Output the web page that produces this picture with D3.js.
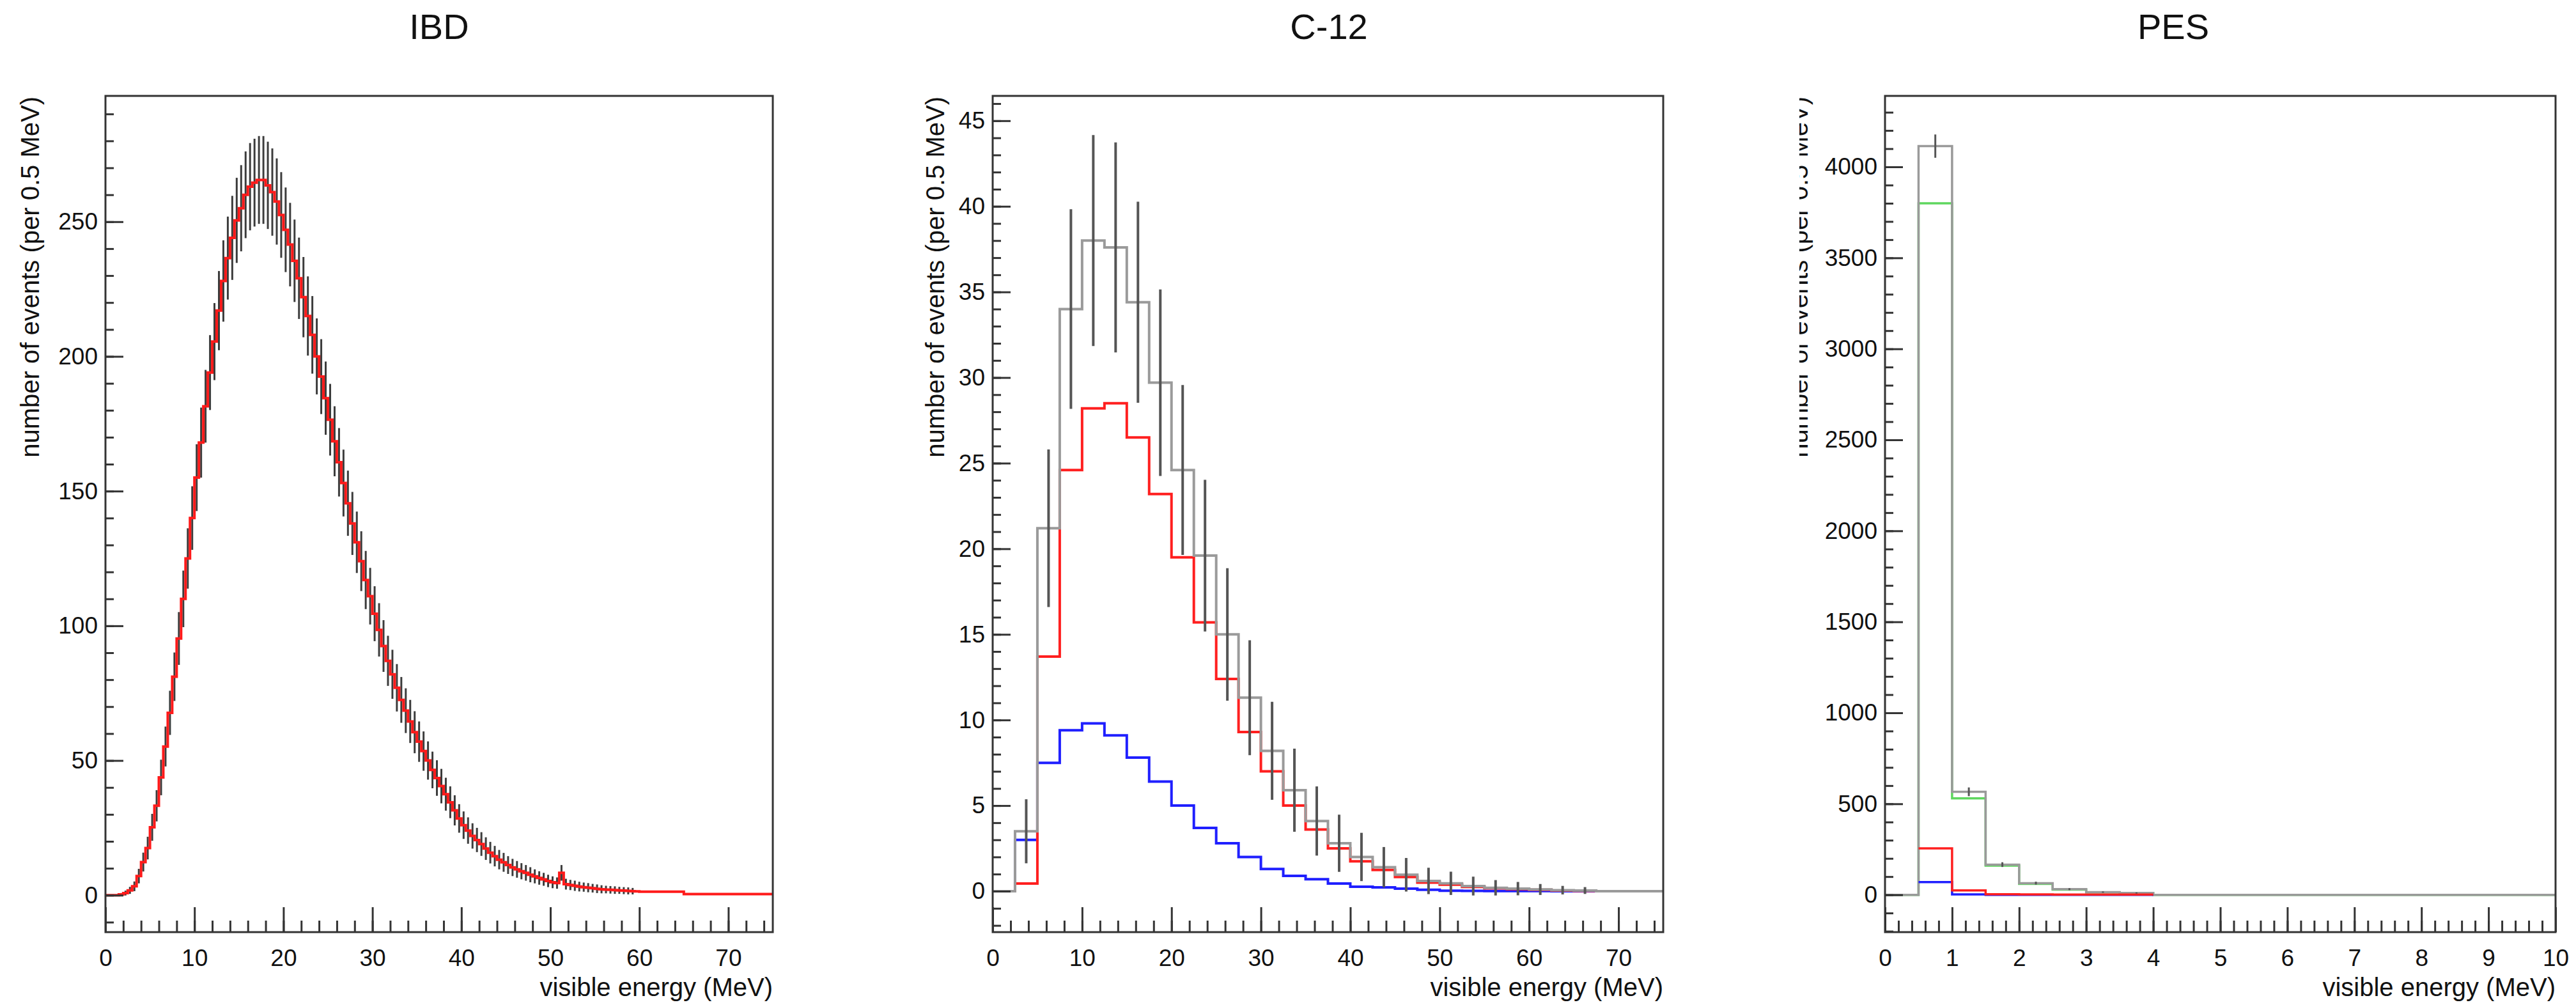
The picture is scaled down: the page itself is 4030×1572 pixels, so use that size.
<!DOCTYPE html>
<html><head><meta charset="utf-8">
<script src="https://cdn.jsdelivr.net/npm/d3@7"></script>
<style>
html,body{margin:0;padding:0;background:#fff;}
svg{display:block;}
text{font-family:"Liberation Sans",Arial,Helvetica,sans-serif;fill:#111;}
</style>
</head><body>
<svg id="c" width="4030" height="1572"></svg>
<script>
// ---------------- DATA ----------------
// IBD: 150 bins of 0.5 MeV from 0 to 75 MeV
const ibdBinWidth = 0.5;
const ibdValues = [
0,0,0,0.3,0.8,1.8,3.3,7.1,12.3,17.5,
25.2,33.2,43.7,55.2,67.7,81.1,95.3,110,125,140,
155,168,181.5,194,205.5,217,228,236.5,244,250.5,
255,260,263,264.5,265.5,265.5,263.5,261,257.5,252.5,
247,241.5,235.5,229,222,215,208,200,192.5,184.5,
176.5,168.5,160.7,153,145.5,138,131,124,117,111,
104.5,98.5,92.5,87,82,77,72.5,68.5,64.5,60.5,
57,53.5,50,46.5,43.5,40.5,37.5,34.5,31.5,28.5,
26,24,22,20.5,19,17.3,15.8,14.5,13.2,12.2,
11.2,10.3,9.6,8.9,8.3,7.6,7,6.4,5.9,5.3,
4.8,4.5,8.3,4.1,3.8,3.5,3.2,3.0,2.8,2.6,
2.4,2.2,2.1,2.0,1.9,1.8,1.7,1.6,1.5,1.4,
1.3,1.3,1.3,1.3,1.3,1.3,1.3,1.3,1.3,1.3,
0.4,0.4,0.4,0.4,0.4,0.4,0.4,0.4,0.4,0.4,
0.4,0.4,0.4,0.4,0.4,0.4,0.4,0.4,0.4,0.4];
const ibdErrors = [
0,0,0,0.5,0.9,1.3,1.8,2.7,3.5,4.2,
5.0,5.8,6.6,7.4,8.2,9.0,9.8,10.5,11.2,11.8,
12.4,13.0,13.5,13.9,14.3,14.7,15.1,15.4,15.6,15.8,
16.0,16.1,16.2,16.3,16.3,16.3,16.2,16.2,16.0,15.9,
15.7,15.5,15.3,15.1,14.9,14.7,14.4,14.1,13.9,13.6,
13.3,13.0,12.7,12.4,12.1,11.7,11.4,11.1,10.8,10.5,
10.2,9.9,9.6,9.3,9.1,8.8,8.5,8.3,8.0,7.8,
7.5,7.3,7.1,6.8,6.6,6.4,6.1,5.9,5.6,5.3,
5.1,4.9,4.7,4.5,4.4,4.2,4.0,3.8,3.6,3.5,
3.3,3.2,3.1,3.0,2.9,2.8,2.6,2.5,2.4,2.3,
2.2,2.1,2.9,2.0,1.9,1.9,1.8,1.7,1.7,1.6,
1.6,1.5,1.4,1.4,1.4,1.3,1.3,1.3,1.2,0,
0,0,0,0,0,0,0,0,0,0,
0,0,0,0,0,0,0,0,0,0,
0,0,0,0,0,0,0,0,0,0];

// C-12: 30 bins of 2.5 MeV from 0 to 75 MeV
const c12BinWidth = 2.5;
const c12Total = [0,3.5,21.2,34.0,38.0,37.6,34.4,29.7,24.6,19.6,15.0,11.3,8.2,5.9,4.1,2.8,2.0,1.4,0.96,0.6,0.46,0.3,0.2,0.15,0.1,0.06,0.04,0,0,0];
const c12Red   = [0,0.45,13.7,24.6,28.2,28.5,26.5,23.2,19.5,15.7,12.4,9.3,7.0,5.0,3.6,2.5,1.75,1.24,0.83,0.5,0.38,0.25,0.17,0.12,0.08,0.04,0.02,0,0,0];
const c12Blue  = [0,3.0,7.5,9.4,9.8,9.1,7.8,6.4,5.0,3.7,2.8,2.0,1.3,0.9,0.7,0.45,0.26,0.22,0.15,0.08,0.03,0.02,0.01,0.01,0.01,0,0,0,0,0];
const c12Errors= [0,1.87,4.6,5.83,6.16,6.13,5.87,5.45,4.96,4.43,3.87,3.36,2.86,2.43,2.02,1.67,1.41,1.18,0.98,0.77,0.68,0.55,0.45,0.39,0.32,0.25,0.2,0,0,0];

// PES: 20 bins of 0.5 MeV from 0 to 10 MeV (null = not filled)
const pesBinWidth = 0.5;
const pesTotal  = [0,4114,566,166,64,31,15,10,0,0,0,0,0,0,0,0,0,0,0,0];
const pesGreen  = [0,3800,530,160,60,29,14,9,0,0,0,0,0,0,0,0,0,0,0,0];
const pesRed    = [null,255,24,3,2,1,1,1,null,null,null,null,null,null,null,null,null,null,null,null];
const pesBlue   = [null,70,2,0,0,0,0,0,null,null,null,null,null,null,null,null,null,null,null,null];
const pesErrors = [0,64,24,13,8,5.6,3.9,3.2,0,0,0,0,0,0,0,0,0,0,0,0];

// Axis ticks
const ibdYMajor = [0,50,100,150,200,250];
const c12YMajor = [0,5,10,15,20,25,30,35,40,45];
const pesYMajor = [0,500,1000,1500,2000,2500,3000,3500,4000];
const energyXMajor = [0,10,20,30,40,50,60,70];
const pesXMajor = [0,1,2,3,4,5,6,7,8,9,10];

const titles = ["IBD","C-12","PES"];
const yTitle = "number of events (per 0.5 MeV)";
const xTitle = "visible energy (MeV)";

// ---------------- DRAWING ----------------
const svg = d3.select('#c');
svg.append('rect').attr('width',4030).attr('height',1572).attr('fill','#fff');

const TOP = 150, BOTTOM = 1458;
const FONT_TICK = 37, FONT_TITLE = 40;

function range(a, b, step){ const out=[]; for(let v=a; v<=b+1e-9; v+=step) out.push(+v.toFixed(6)); return out; }

function makePanel(cfg){
  const x = d3.scaleLinear().domain(cfg.xDomain).range([cfg.left, cfg.right]);
  const y = d3.scaleLinear().domain(cfg.yDomain).range([BOTTOM, TOP]);
  const g = svg.append('g');
  const clipId = 'clip' + cfg.id;
  svg.append('clipPath').attr('id', clipId).append('rect')
    .attr('x', cfg.left).attr('y', TOP).attr('width', cfg.right - cfg.left).attr('height', BOTTOM - TOP);
  const plot = g.append('g').attr('clip-path', `url(#${clipId})`);

  // Title
  g.append('text').attr('x', cfg.titleX).attr('y', 61).attr('text-anchor','middle')
    .attr('font-size', 56).text(cfg.title);

  // y axis ticks (inward)
  const yMinor = range(cfg.yMinorStart, cfg.yDomain[1], cfg.yMinorStep).filter(v => v >= cfg.yDomain[0]);
  const yMinAx = d3.axisLeft(y).tickValues(yMinor).tickSize(-13).tickFormat('');
  const yMajAx = d3.axisLeft(y).tickValues(cfg.yMajor).tickSize(-28).tickPadding(12).tickFormat(d3.format('d'));
  const ga1 = g.append('g').attr('transform', `translate(${cfg.left},0)`).call(yMinAx);
  const ga2 = g.append('g').attr('transform', `translate(${cfg.left},0)`).call(yMajAx);
  [ga1, ga2].forEach(a => { a.select('.domain').remove(); a.selectAll('line').attr('stroke','#333').attr('stroke-width',3); });
  ga2.selectAll('text').attr('font-size', FONT_TICK).attr('font-family','"Liberation Sans",Arial,sans-serif').attr('fill','#111');

  // x axis ticks (inward)
  const xMinor = range(cfg.xDomain[0], cfg.xDomain[1], cfg.xMinorStep);
  const xMinAx = d3.axisBottom(x).tickValues(xMinor).tickSize(-18).tickFormat('');
  const xMajAx = d3.axisBottom(x).tickValues(cfg.xMajor).tickSize(-39).tickPadding(27).tickFormat(d3.format('d'));
  const gx1 = g.append('g').attr('transform', `translate(0,${BOTTOM})`).call(xMinAx);
  const gx2 = g.append('g').attr('transform', `translate(0,${BOTTOM})`).call(xMajAx);
  [gx1, gx2].forEach(a => { a.select('.domain').remove(); a.selectAll('line').attr('stroke','#333').attr('stroke-width',3); });
  gx2.selectAll('text').attr('font-size', FONT_TICK).attr('font-family','"Liberation Sans",Arial,sans-serif').attr('fill','#111');

  // axis titles
  g.append('text').attr('x', cfg.right).attr('y', 1558).attr('text-anchor','end')
    .attr('font-size', FONT_TITLE).text(xTitle);
  const yt = g.append('g');
  if (cfg.yTitleClip) {
    const yc = 'yclip' + cfg.id;
    svg.append('clipPath').attr('id', yc).append('rect')
      .attr('x', cfg.yTitleClip).attr('y', 0).attr('width', 400).attr('height', 1572);
    yt.attr('clip-path', `url(#${yc})`);
  }
  yt.append('text').attr('transform', `translate(${cfg.yTitleX},151) rotate(-90)`)
    .attr('text-anchor','end').attr('font-size', FONT_TITLE).text(yTitle);

  return {x, y, g, plot};
}

function histPath(plot, x, y, values, binWidth, color, width){
  // consecutive non-null runs
  let run = [];
  const runs = [];
  values.forEach((v, i) => {
    if (v === null) { if (run.length) runs.push(run); run = []; }
    else run.push([i, v]);
  });
  if (run.length) runs.push(run);
  const line = d3.line().x(d => x(d[0])).y(d => y(d[1])).curve(d3.curveStepAfter);
  runs.forEach(r => {
    const pts = r.map(([i, v]) => [i * binWidth, v]);
    const last = r[r.length - 1];
    pts.push([(last[0] + 1) * binWidth, last[1]]);
    plot.append('path').attr('d', line(pts)).attr('fill','none')
      .attr('stroke', color).attr('stroke-width', width).attr('stroke-linejoin','miter');
  });
}

function errorBars(plot, x, y, values, errors, binWidth, color, width){
  plot.append('g').selectAll('line').data(values.map((v, i) => ({v, e: errors[i], c: (i + 0.5) * binWidth})).filter(d => d.e > 0))
    .join('line')
    .attr('x1', d => x(d.c)).attr('x2', d => x(d.c))
    .attr('y1', d => y(d.v - d.e)).attr('y2', d => y(d.v + d.e))
    .attr('stroke', color).attr('stroke-width', width);
}

function frame(g, cfg){
  g.append('rect').attr('x', cfg.left).attr('y', TOP).attr('width', cfg.right - cfg.left).attr('height', BOTTOM - TOP)
    .attr('fill','none').attr('stroke','#333').attr('stroke-width',3);
}

// ---- IBD ----
const cfgIBD = {id:'ibd', title:titles[0], left:165, right:1209, titleX:687,
  xDomain:[0,75], yDomain:[-13.7,296.7], yMajor:ibdYMajor, yMinorStart:-10, yMinorStep:10,
  xMajor:energyXMajor, xMinorStep:2, yTitleX:61};
const pI = makePanel(cfgIBD);
errorBars(pI.plot, pI.x, pI.y, ibdValues, ibdErrors, ibdBinWidth, '#3c3c3c', 3);
histPath(pI.plot, pI.x, pI.y, ibdValues, ibdBinWidth, '#ff1a1a', 4);
frame(pI.g, cfgIBD);

// ---- C-12 ----
const cfgC = {id:'c12', title:titles[1], left:1553, right:2602, titleX:2079,
  xDomain:[0,75], yDomain:[-2.39,46.45], yMajor:c12YMajor, yMinorStart:-2, yMinorStep:1,
  xMajor:energyXMajor, xMinorStep:2, yTitleX:1477};
const pC = makePanel(cfgC);
histPath(pC.plot, pC.x, pC.y, c12Blue, c12BinWidth, '#1f1fff', 4);
histPath(pC.plot, pC.x, pC.y, c12Red, c12BinWidth, '#ff1f1f', 4);
histPath(pC.plot, pC.x, pC.y, c12Total, c12BinWidth, '#9a9a9a', 4);
errorBars(pC.plot, pC.x, pC.y, c12Total, c12Errors, c12BinWidth, '#555', 4);
frame(pC.g, cfgC);

// ---- PES ----
const cfgP = {id:'pes', title:titles[2], left:2949, right:3998, titleX:3400,
  xDomain:[0,10], yDomain:[-205,4390], yMajor:pesYMajor, yMinorStart:-200, yMinorStep:100,
  xMajor:pesXMajor, xMinorStep:0.2, yTitleX:2828, yTitleClip:2815};
const pP = makePanel(cfgP);
histPath(pP.plot, pP.x, pP.y, pesGreen, pesBinWidth, '#5ed65e', 3.5);
histPath(pP.plot, pP.x, pP.y, pesTotal, pesBinWidth, '#9a9a9a', 3.5);
histPath(pP.plot, pP.x, pP.y, pesBlue, pesBinWidth, '#1f1fff', 3.5);
histPath(pP.plot, pP.x, pP.y, pesRed, pesBinWidth, '#ff1f1f', 3.5);
errorBars(pP.plot, pP.x, pP.y, pesTotal, pesErrors, pesBinWidth, '#555', 3);
frame(pP.g, cfgP);
</script>
</body></html>
